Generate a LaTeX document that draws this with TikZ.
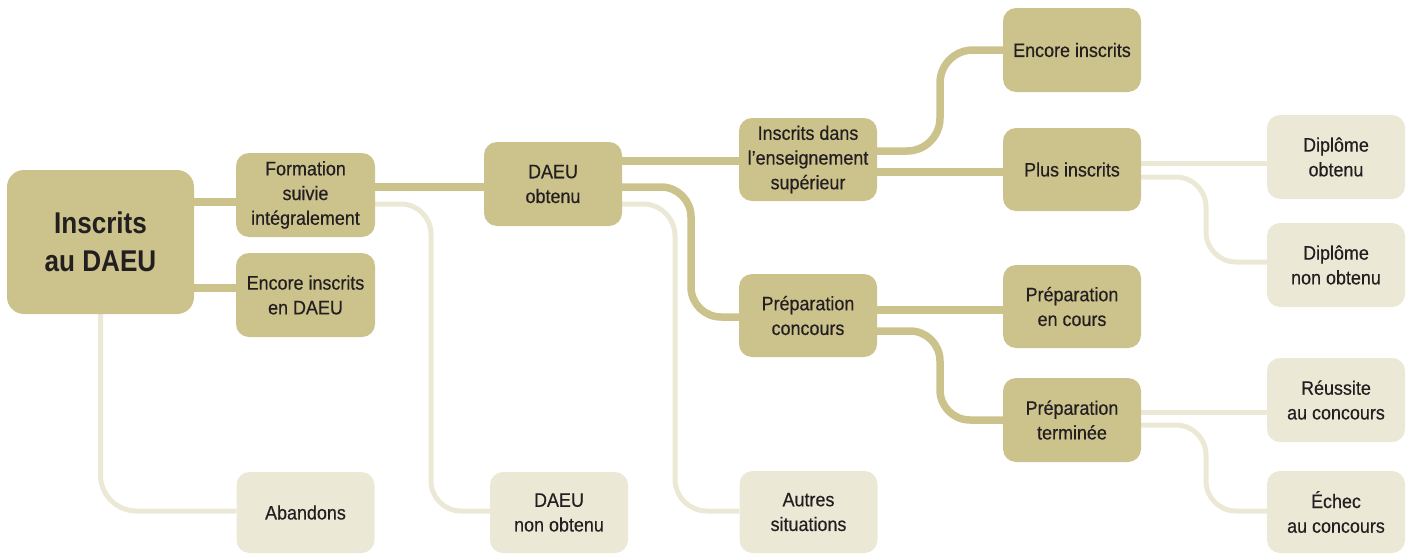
\documentclass[tikz,border=0pt]{standalone}
\usepackage{fontspec}
\setmainfont{Liberation Sans}[FakeStretch=0.92, FakeBold=0.4]
\newfontfamily\bigfont{Liberation Sans}[FakeStretch=0.87]
\usetikzlibrary{backgrounds}
\definecolor{dkfill}{RGB}{203,194,140}
\definecolor{ltfill}{RGB}{236,232,214}
\definecolor{txt}{RGB}{35,31,32}
\tikzset{
  box/.style={rounded corners=13pt, minimum width=138pt, minimum height=84pt,
    align=center, text=txt, inner sep=0pt, font=\fontsize{19.5}{24.7}\selectfont},
  dkbox/.style={box, fill=dkfill},
  ltbox/.style={box, fill=ltfill},
  dk/.style={draw=dkfill, line width=7.5pt},
  lt/.style={draw=ltfill, line width=5pt},
}
\begin{document}
\begin{tikzpicture}[x=1pt, y=-1pt]
\useasboundingbox (0,0) rectangle (1413,554);
% nodes
\node[dkbox, minimum width=187pt, minimum height=144pt, rounded corners=17pt,
  font=\bigfont\bfseries\fontsize{30}{37.7}\selectfont] (big) at (100.5,242) {Inscrits\\au DAEU};
\node[dkbox, minimum width=139pt] (form) at (305.5,195) {Formation\\suivie\\intégralement};
\node[dkbox, minimum width=139pt] (encdaeu) at (305.5,295) {Encore inscrits\\en DAEU};
\node[ltbox, minimum height=81pt] (aband) at (305.5,512.5) {Abandons};
\node[dkbox] (obt) at (553,184) {DAEU\\obtenu};
\node[ltbox, minimum height=81pt] (nonobt) at (559,512.5) {DAEU\\non obtenu};
\node[dkbox, minimum height=83pt] (sup) at (808,159.5) {Inscrits dans\\l’enseignement\\supérieur};
\node[dkbox, minimum height=83pt] (prepc) at (808,315.5) {Préparation\\concours};
\node[ltbox, minimum height=82pt] (autres) at (808.5,512) {Autres\\situations};
\node[dkbox] (encins) at (1072,50) {Encore inscrits};
\node[dkbox, minimum height=83pt] (plus) at (1072,169.5) {Plus inscrits};
\node[dkbox, minimum height=83pt] (prepen) at (1072,306.5) {Préparation\\en cours};
\node[dkbox] (prept) at (1072,420) {Préparation\\terminée};
\node[ltbox] (dipo) at (1336,157) {Diplôme\\obtenu};
\node[ltbox] (dipno) at (1336,265) {Diplôme\\non obtenu};
\node[ltbox] (reus) at (1336,400) {Réussite\\au concours};
\node[ltbox, minimum height=82pt] (echec) at (1336,512) {Échec\\au concours};
% connectors
\begin{pgfonlayer}{background}
\draw[dk] (big.east |- 0,202) -- (form.west |- 0,202);
\draw[dk] (big.east |- 0,288) -- (encdaeu.west |- 0,288);
\draw[lt, rounded corners=36pt] (big.south) |- (aband.west |- 0,511);
\draw[dk] (form.east |- 0,187) -- (obt.west |- 0,187);
\draw[lt, rounded corners=30pt] (form.east |- 0,204) -| (431,511) -- (nonobt.west |- 0,511);
\draw[dk] (obt.east |- 0,161) -- (sup.west |- 0,161);
\draw[dk, rounded corners=30pt] (obt.east |- 0,187) -| (691,317) -- (prepc.west |- 0,317);
\draw[lt, rounded corners=32pt] (obt.east |- 0,204) -| (675,511) -- (autres.west |- 0,511);
\draw[dk, rounded corners=33pt] (sup.east |- 0,151) -| (940,50) -- (encins.west |- 0,50);
\draw[dk] (sup.east |- 0,172) -- (plus.west |- 0,172);
\draw[lt] (plus.east |- 0,163.5) -- (dipo.west |- 0,163.5);
\draw[lt, rounded corners=30pt] (plus.east |- 0,177) -| (1206,262) -- (dipno.west |- 0,262);
\draw[dk] (prepc.east |- 0,310) -- (prepen.west |- 0,310);
\draw[dk, rounded corners=30pt] (prepc.east |- 0,331) -| (940,420) -- (prept.west |- 0,420);
\draw[lt] (prept.east |- 0,412) -- (reus.west |- 0,412);
\draw[lt, rounded corners=30pt] (prept.east |- 0,425) -| (1206,511) -- (echec.west |- 0,511);
\end{pgfonlayer}
\end{tikzpicture}
\end{document}
